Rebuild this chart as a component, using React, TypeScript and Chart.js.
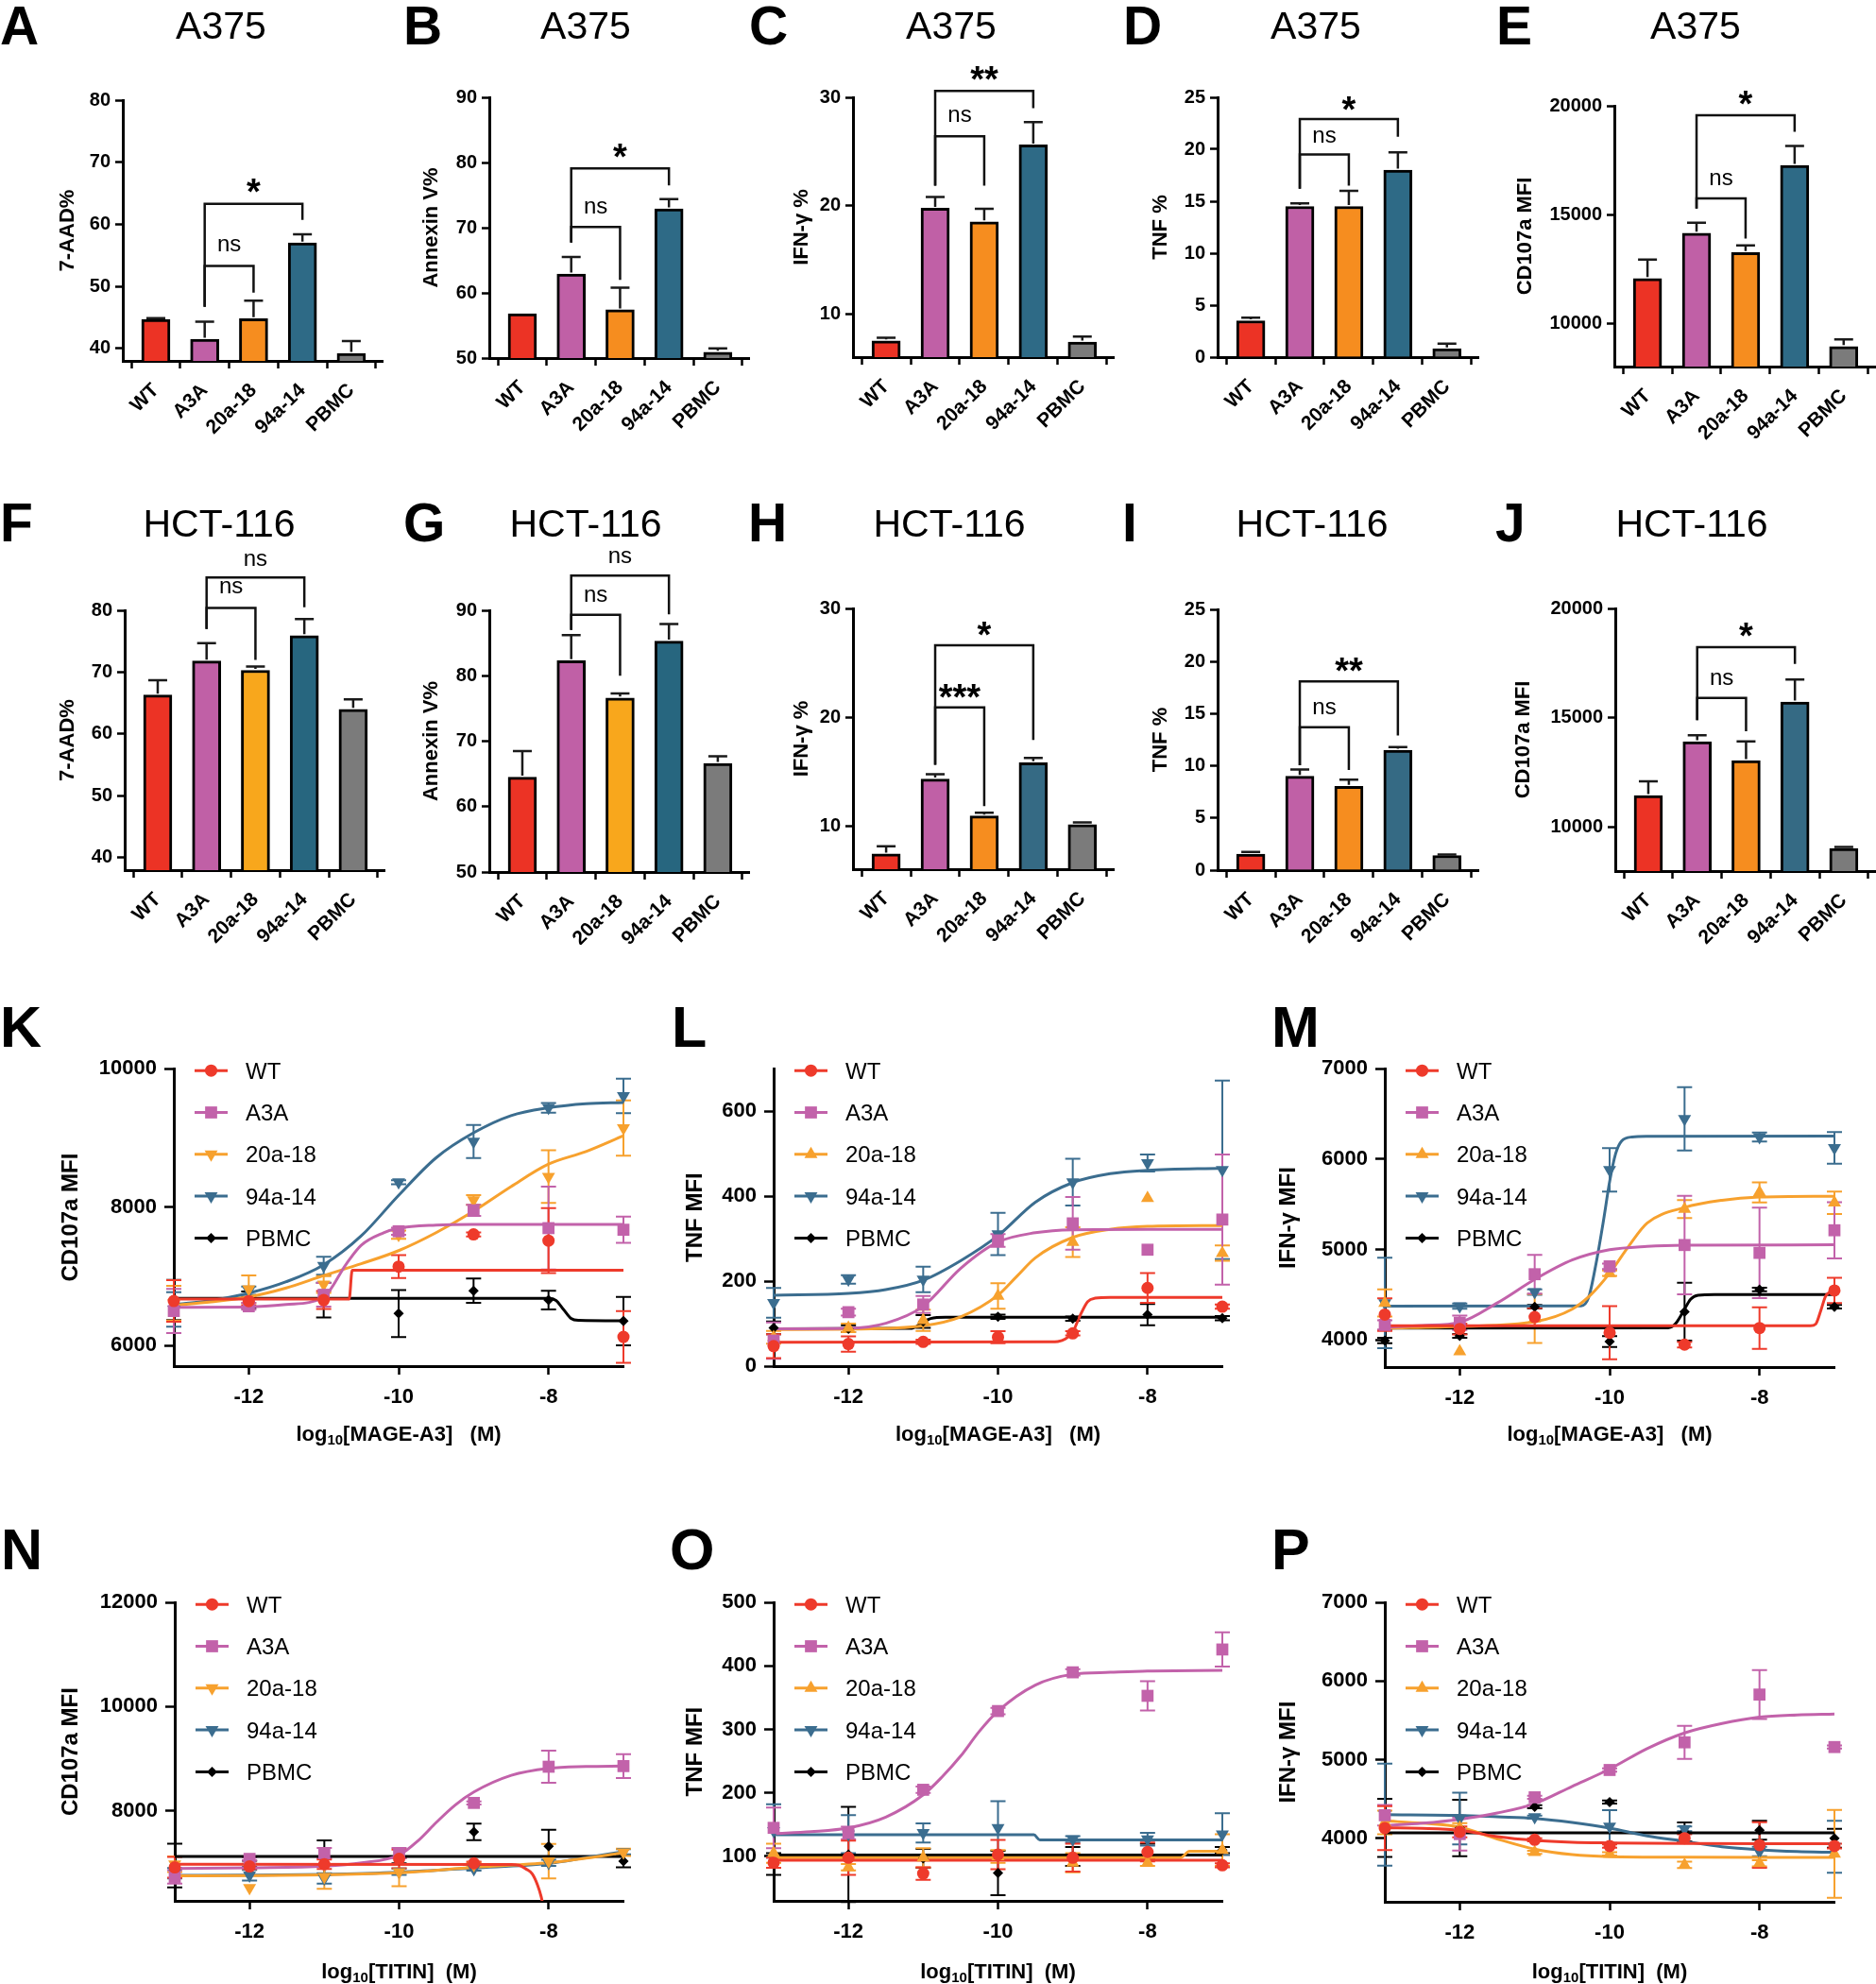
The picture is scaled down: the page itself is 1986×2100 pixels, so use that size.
import React, { useEffect, useRef } from 'react';
import { Chart, registerables } from 'chart.js';

Chart.register(...registerables);

const FONT = "'Liberation Sans', Arial, Helvetica, sans-serif";

// ---------------- categories ----------------
const groups = ['WT', 'A3A', '20a-18', '94a-14', 'PBMC'];

// ---------------- bar panels: means, errors ----------------
const A_mean = [44.7, 41.5, 44.8, 57.0, 39.2];
const A_err = [0.2, 2.8, 2.9, 1.4, 2.0];
const B_mean = [56.8, 62.9, 57.4, 72.9, 50.9];
const B_err = [0, 2.6, 3.4, 1.5, 0.6];
const C_mean = [7.5, 19.75, 18.5, 25.6, 7.4];
const C_err = [0.3, 1.05, 1.2, 2.1, 0.5];
const D_mean = [3.5, 14.5, 14.5, 18.0, 0.8];
const D_err = [0.3, 0.3, 1.5, 1.7, 0.5];
const E_mean = [12050, 14140, 13250, 17260, 8920];
const E_err = [870, 475, 330, 895, 330];
const F_mean = [66.3, 71.8, 70.3, 75.9, 64.0];
const F_err = [2.4, 2.9, 0.6, 2.7, 1.6];
const G_mean = [64.5, 82.3, 76.6, 85.3, 66.6];
const G_err = [4.0, 3.9, 0.7, 2.6, 1.1];
const H_mean = [7.4, 14.3, 10.9, 15.8, 10.1];
const H_err = [0.7, 0.45, 0.3, 0.45, 0.2];
const I_mean = [1.54, 9.0, 8.03, 11.5, 1.4];
const I_err = [0.2, 0.65, 0.65, 0.3, 0.1];
const J_mean = [11450, 13910, 13045, 15725, 9030];
const J_err = [650, 300, 880, 1030, 70];

// significance brackets: [from, to, barY, leftLegEnd, rightLegEnd, label, labelCenterY]
const A_sig = [[1, 2, 53.3, 46.7, 49.0, 'ns', 56.6], [1, 3, 63.3, 46.7, 60.7, '*', 66.2]];
const B_sig = [[1, 2, 70.1, 67.7, 62.0, 'ns', 73.1], [1, 3, 79.1, 67.7, 76.5, '*', 81.8]];
const C_sig = [[1, 2, 26.4, 21.85, 21.85, 'ns', 28.3], [1, 3, 30.6, 21.85, 29.0, '**', 32.2]];
const D_sig = [[1, 2, 19.5, 16.2, 16.5, 'ns', 21.2], [1, 3, 22.9, 16.2, 21.2, '*', 24.4]];
const E_sig = [[1, 2, 15743, 15267, 13896, 'ns', 16638], [1, 3, 19567, 15267, 18802, '*', 20390]];
const F_sig = [[1, 2, 80.4, 77.0, 72.0, 'ns', 83.7], [1, 3, 85.3, 77.0, 80.5, 'ns', 88.1]];
const G_sig = [[1, 2, 89.3, 87.0, 80.0, 'ns', 92.3], [1, 3, 95.3, 87.0, 89.4, 'ns', 98.2]];
const H_sig = [[1, 2, 20.9, 15.6, 11.8, '***', 22.4], [1, 3, 26.6, 15.6, 17.9, '*', 28.1]];
const I_sig = [[1, 2, 13.7, 10.05, 9.6, 'ns', 15.5], [1, 3, 18.1, 10.05, 12.9, '**', 19.7]];
const J_sig = [[1, 2, 15914, 14899, 14392, 'ns', 16783], [1, 3, 18232, 14899, 17464, '*', 19029]];

// y tick values
const aadTicks = [40, 50, 60, 70, 80];
const annexTicks = [50, 60, 70, 80, 90];
const ifnPctTicks = [10, 20, 30];
const tnfPctTicks = [0, 5, 10, 15, 20, 25];
const cd107BarTicks = [10000, 15000, 20000];

// ---------------- dose-response panels ----------------
const doses = [-13, -12, -11, -10, -9, -8, -7];
const doseTicks = [-12, -10, -8];

// series order: WT, A3A, 20a-18, 94a-14, PBMC
const K_mean = [
  [6642, 6640, 6655, 7139, 7604, 7514, 6122],
  [6497, 6565, 6732, 7650, 7952, 7695, 7672],
  [6610, 6813, 6880, 7600, 8102, 8440, 9141],
  [6520, 6790, 7152, 8359, 8947, 9435, 9607],
  [6655, 6660, 6655, 6461, 6791, 6655, 6352],
];
const K_err = [
  [300, 60, 130, 165, 30, 470, 375],
  [320, 50, 170, 50, 80, 600, 190],
  [250, 200, 120, 60, 70, 380, 400],
  [250, 60, 130, 30, 240, 70, 250],
  [290, 120, 250, 340, 175, 135, 350],
];
const K_fit = [
  [[-13, 6670], [-10.66, 6670], [-10.62, 7085], [-7, 7085]],
  [[-13, 6550], [-12, 6555], [-11.5, 6590], [-11, 6700], [-10.7, 7175], [-10.5, 7446], [-10.2, 7627], [-10, 7695], [-9.5, 7740], [-9, 7749], [-7, 7750]],
  [[-13, 6580], [-12.5, 6630], [-12, 6700], [-11.5, 6830], [-11, 7010], [-10.5, 7180], [-10, 7370], [-9.5, 7630], [-9, 7940], [-8.5, 8296], [-8, 8620], [-7.5, 8802], [-7, 9030]],
  [[-13, 6590], [-12.5, 6650], [-12, 6755], [-11.5, 6920], [-11, 7166], [-10.5, 7582], [-10, 8169], [-9.5, 8712], [-9, 9073], [-8.5, 9322], [-8, 9435], [-7.5, 9494], [-7, 9512]],
  [[-13, 6680], [-8, 6680], [-7.9, 6650], [-7.8, 6520], [-7.7, 6390], [-7.6, 6362], [-7, 6355]],
];

const L_mean = [
  [47, 52, 57, 68, 77, 184, 140],
  [60, 127, 145, 296, 336, 274, 345],
  [68, 90, 108, 165, 292, 395, 266],
  [149, 204, 204, 311, 433, 478, 462],
  [90, 88, 105, 116, 112, 121, 113],
];
const L_err = [
  [28, 18, 5, 14, 5, 35, 5],
  [43, 8, 20, 15, 62, 0, 153],
  [15, 10, 25, 30, 35, 0, 18],
  [35, 10, 30, 50, 55, 20, 210],
  [15, 8, 15, 5, 5, 25, 5],
];
const L_fit = [
  [[-13, 56], [-9.3, 57], [-9.2, 58], [-9.1, 64], [-9.0, 80], [-8.9, 120], [-8.8, 152], [-8.7, 160], [-8.5, 162], [-7, 162]],
  [[-13, 88], [-12, 89], [-11.5, 101], [-11, 141], [-10.5, 230], [-10, 292], [-9.5, 314], [-9, 321], [-8, 322], [-7, 322]],
  [[-13, 86], [-12, 87], [-11, 95], [-10.5, 116], [-10, 167], [-9.75, 211], [-9.5, 255], [-9, 303], [-8.5, 322], [-8, 329], [-7, 331]],
  [[-13, 167], [-12, 171], [-11.5, 180], [-11, 202], [-10.5, 248], [-10, 307], [-9.5, 386], [-9, 432], [-8.5, 453], [-8, 461], [-7, 466]],
  [[-13, 88], [-11.15, 89], [-11.0, 104], [-10.9, 112], [-10.7, 115], [-7, 115]],
];

const M_mean = [
  [4281, 4121, 4253, 4080, 3948, 4132, 4547],
  [4166, 4190, 4727, 4814, 5050, 4963, 5213],
  [4409, 3872, 4236, 4738, 5448, 5632, 5517],
  [4409, 4374, 4530, 5881, 6446, 6245, 6124],
  [3993, 4045, 4367, 3983, 4312, 4558, 4367],
];
const M_err = [
  [180, 60, 100, 295, 30, 230, 140],
  [50, 80, 215, 30, 545, 500, 310],
  [150, 0, 270, 30, 100, 110, 125],
  [500, 30, 30, 240, 350, 50, 175],
  [30, 20, 20, 60, 320, 20, 20],
];
const M_fit = [
  [[-13, 4156], [-7.32, 4156], [-7.25, 4175], [-7.18, 4330], [-7.12, 4480], [-7.05, 4535], [-7, 4545]],
  [[-13, 4140], [-12.5, 4160], [-12, 4195], [-11.5, 4409], [-11, 4669], [-10.5, 4884], [-10, 4998], [-9.5, 5035], [-9, 5048], [-7, 5052]],
  [[-13, 4130], [-12, 4150], [-11, 4201], [-10.5, 4340], [-10.25, 4500], [-10, 4738], [-9.75, 5032], [-9.5, 5292], [-9, 5465], [-8.5, 5545], [-8, 5580], [-7, 5590]],
  [[-13, 4374], [-10.38, 4376], [-10.28, 4470], [-10.18, 4850], [-10.08, 5330], [-10.0, 5750], [-9.92, 6060], [-9.84, 6200], [-9.7, 6245], [-9.5, 6252], [-7, 6255]],
  [[-13, 4132], [-9.22, 4134], [-9.12, 4180], [-9.02, 4310], [-8.92, 4450], [-8.82, 4495], [-8.6, 4502], [-7, 4502]],
];

const N_mean = [
  [6913, 6931, 6973, 7076, 6991, null, null],
  [6731, 7076, 7185, 7185, 8151, 8846, 8858],
  [6973, 6520, 6731, 6822, 6960, 7033, 7203],
  [6800, 6762, 6701, 6830, 6882, 7000, 7215],
  [6950, 6980, 7100, 7050, 7595, 7317, 7033],
];
const N_err = [
  [200, 50, 90, 180, 30, 0, 0],
  [130, 30, 100, 100, 30, 310, 230],
  [150, 0, 230, 270, 40, 330, 70],
  [100, 100, 100, 60, 30, 60, 50],
  [420, 60, 330, 60, 160, 320, 120],
];
const N_fit = [
  [[-13, 6973], [-8.5, 6968], [-8.4, 6955], [-8.3, 6880], [-8.22, 6790], [-8.15, 6580], [-8.1, 6350], [-8.05, 6000]],
  [[-13, 6890], [-12, 6905], [-11, 6935], [-10.5, 7000], [-10, 7150], [-9.75, 7420], [-9.5, 7780], [-9.25, 8110], [-9, 8360], [-8.5, 8680], [-8, 8815], [-7.5, 8850], [-7, 8860]],
  [[-13, 6750], [-12, 6755], [-11, 6770], [-10, 6810], [-9, 6913], [-8, 7003], [-7.5, 7090], [-7, 7197]],
  [[-13, 6760], [-12, 6765], [-11, 6780], [-10, 6820], [-9, 6900], [-8, 6990], [-7.5, 7100], [-7, 7215]],
  [[-13, 7124], [-7, 7124]],
];

const O_mean = [
  [90, 98, 73, 103, 98, 107, 86],
  [145, 137, 205, 329, 390, 353, 426],
  [105, 83, 98, 100, 90, 90, 110],
  [140, 135, 137, 145, 127, 127, 135],
  [88, 103, 97, 74, 100, 108, 110],
];
const O_err = [
  [8, 27, 10, 23, 22, 15, 3],
  [32, 10, 5, 5, 5, 23, 27],
  [15, 5, 15, 10, 15, 5, 25],
  [42, 30, 15, 42, 5, 10, 33],
  [17, 75, 15, 35, 15, 12, 5],
];
const O_fit = [
  [[-13, 94], [-7, 94]],
  [[-13, 136], [-12.5, 139], [-12, 145], [-11.5, 162], [-11, 197], [-10.75, 225], [-10.5, 258], [-10.25, 297], [-10, 329], [-9.5, 370], [-9, 387], [-8.5, 390], [-8, 392], [-7, 393]],
  [[-13, 98], [-7.56, 98], [-7.44, 108], [-7, 108]],
  [[-13, 134], [-9.52, 134], [-9.44, 126], [-7, 126]],
  [[-13, 102], [-7, 102]],
];

const P_mean = [
  [4128, 4080, 3980, 3900, 4000, 3912, 3900],
  [4292, 4052, 4520, 4868, 5220, 5828, 5160],
  [4200, 4130, 3820, 3800, 3660, 3680, 3800],
  [4300, 4250, 4268, 4148, 4120, 3830, 3890],
  [4130, 4130, 4400, 4460, 4080, 4100, 4000],
];
const P_err = [
  [280, 70, 20, 20, 50, 290, 30],
  [130, 210, 20, 20, 210, 310, 20],
  [150, 60, 20, 20, 40, 40, 560],
  [650, 330, 20, 210, 30, 60, 330],
  [370, 360, 20, 20, 120, 120, 120],
];
const P_fit = [
  [[-13, 4132], [-12.5, 4125], [-12, 4100], [-11.5, 4020], [-11, 3972], [-10.5, 3948], [-10, 3940], [-9, 3932], [-7, 3930]],
  [[-13, 4160], [-12.5, 4190], [-12, 4240], [-11.5, 4320], [-11, 4440], [-10.5, 4660], [-10, 4880], [-9.5, 5140], [-9, 5340], [-8.5, 5460], [-8, 5540], [-7.5, 5568], [-7, 5580]],
  [[-13, 4220], [-12.5, 4190], [-12, 4140], [-11.5, 3990], [-11, 3860], [-10.5, 3790], [-10, 3765], [-9, 3758], [-7, 3755]],
  [[-13, 4300], [-12, 4290], [-11.5, 4272], [-11, 4252], [-10.5, 4200], [-10, 4128], [-9.5, 4028], [-9, 3960], [-8.5, 3890], [-8, 3852], [-7.5, 3830], [-7, 3820]],
  [[-13, 4068], [-7, 4068]],
];

// ---------------- styles ----------------
const RED = '#EC3325', MAG = '#C060A6', ORA = '#F68D1F', TEAL = '#2E6A86', GRAY = '#7B7B7B';
const row1Colors = [RED, MAG, ORA, TEAL, GRAY];
const fgColors = [RED, MAG, '#F8A71C', '#27667F', GRAY];
const hijColors = [RED, MAG, ORA, '#356A84', GRAY];

const lineStyles = [
  { name: 'WT', color: '#EE3A2B', style: 'circle', r: 6.5 },
  { name: 'A3A', color: '#C262AA', style: 'rect', r: 9 },
  { name: '20a-18', color: '#F7A12E', style: 'triangle', r: 8 },
  { name: '94a-14', color: '#3B6D8F', style: 'triangle', r: 8 },
  { name: 'PBMC', color: '#000000', style: 'rectRot', r: 5.5 },
];

const barPanels = [
  { key: 'A', box: [40, 55, 380, 420], area: [130, 106, 405, 382], titleX: 72, yTitle: '7-AAD%', range: [38, 80], ticks: aadTicks, mean: A_mean, err: A_err, sig: A_sig, colors: row1Colors },
  { key: 'B', box: [425, 55, 380, 420], area: [518, 103, 793, 379], titleX: 457, yTitle: 'Annexin V%', range: [50, 90], ticks: annexTicks, mean: B_mean, err: B_err, sig: B_sig, colors: row1Colors },
  { key: 'C', box: [810, 55, 385, 420], area: [903, 103, 1179, 378], titleX: 849, yTitle: 'IFN-γ %', range: [6, 30], ticks: ifnPctTicks, mean: C_mean, err: C_err, sig: C_sig, colors: row1Colors },
  { key: 'D', box: [1200, 55, 385, 420], area: [1289, 103, 1565, 378], titleX: 1229, yTitle: 'TNF %', range: [0, 25], ticks: tnfPctTicks, mean: D_mean, err: D_err, sig: D_sig, colors: row1Colors },
  { key: 'E', box: [1590, 55, 396, 420], area: [1709, 112, 1985, 388], titleX: 1615, yTitle: 'CD107a MFI', range: [8000, 20000], ticks: cd107BarTicks, mean: E_mean, err: E_err, sig: E_sig, colors: row1Colors },
  { key: 'F', box: [40, 575, 380, 425], area: [132, 646, 407, 921], titleX: 72, yTitle: '7-AAD%', range: [38, 80], ticks: aadTicks, mean: F_mean, err: F_err, sig: F_sig, colors: fgColors },
  { key: 'G', box: [425, 575, 380, 425], area: [518, 646, 793, 923], titleX: 457, yTitle: 'Annexin V%', range: [50, 90], ticks: annexTicks, mean: G_mean, err: G_err, sig: G_sig, colors: fgColors },
  { key: 'H', box: [810, 575, 385, 425], area: [903, 644, 1179, 920], titleX: 849, yTitle: 'IFN-γ %', range: [6, 30], ticks: ifnPctTicks, mean: H_mean, err: H_err, sig: H_sig, colors: hijColors },
  { key: 'I', box: [1200, 575, 385, 425], area: [1289, 645, 1565, 921], titleX: 1229, yTitle: 'TNF %', range: [0, 25], ticks: tnfPctTicks, mean: I_mean, err: I_err, sig: I_sig, colors: hijColors },
  { key: 'J', box: [1590, 575, 396, 425], area: [1710, 644, 1985, 922], titleX: 1613, yTitle: 'CD107a MFI', range: [8000, 20000], ticks: cd107BarTicks, mean: J_mean, err: J_err, sig: J_sig, colors: hijColors },
];

const linePanels = [
  { key: 'K', box: [50, 1110, 620, 435], area: [184, 1128, 660, 1446], titleX: 75, yTitle: 'CD107a MFI', range: [5700, 10000], ticks: [6000, 8000, 10000], mean: K_mean, err: K_err, fit: K_fit, down20: true, xTitle: 'MAGE-A3', xTitleY: 1518 },
  { key: 'L', box: [690, 1110, 615, 435], area: [819, 1129, 1294, 1446], titleX: 736, yTitle: 'TNF MFI', range: [0, 700], ticks: [0, 200, 400, 600], mean: L_mean, err: L_err, fit: L_fit, down20: false, xTitle: 'MAGE-A3', xTitleY: 1518 },
  { key: 'M', box: [1330, 1110, 625, 435], area: [1466, 1129, 1942, 1447], titleX: 1364, yTitle: 'IFN-γ MFI', range: [3700, 7000], ticks: [4000, 5000, 6000, 7000], mean: M_mean, err: M_err, fit: M_fit, down20: false, xTitle: 'MAGE-A3', xTitleY: 1518 },
  { key: 'N', box: [50, 1675, 620, 425], area: [185, 1696, 660, 2012], titleX: 75, yTitle: 'CD107a MFI', range: [6270, 12000], ticks: [8000, 10000, 12000], mean: N_mean, err: N_err, fit: N_fit, down20: true, xTitle: 'TITIN', xTitleY: 2087 },
  { key: 'O', box: [690, 1675, 615, 425], area: [819, 1696, 1294, 2012], titleX: 736, yTitle: 'TNF MFI', range: [30, 500], ticks: [100, 200, 300, 400, 500], mean: O_mean, err: O_err, fit: O_fit, down20: false, xTitle: 'TITIN', xTitleY: 2087 },
  { key: 'P', box: [1330, 1675, 625, 425], area: [1466, 1695, 1942, 2013], titleX: 1364, yTitle: 'IFN-γ MFI', range: [3190, 7000], ticks: [4000, 5000, 6000, 7000], mean: P_mean, err: P_err, fit: P_fit, down20: false, xTitle: 'TITIN', xTitleY: 2087 },
];

// ---------------- drawing helpers ----------------
function drawMarker(ctx: any, style: string, r: number, rot: number, x: number, y: number) {
  ctx.beginPath();
  if (style === 'circle') {
    ctx.arc(x, y, r, 0, Math.PI * 2);
  } else if (style === 'rect') {
    const s = r * Math.SQRT1_2;
    ctx.rect(x - s, y - s, 2 * s, 2 * s);
  } else if (style === 'rectRot') {
    ctx.moveTo(x, y - r); ctx.lineTo(x + r, y); ctx.lineTo(x, y + r); ctx.lineTo(x - r, y); ctx.closePath();
  } else {
    const a0 = (rot * Math.PI) / 180;
    for (let k = 0; k < 3; k++) {
      const a = a0 + (k * 2 * Math.PI) / 3;
      const px = x + Math.sin(a) * r, py = y - Math.cos(a) * r;
      if (k === 0) ctx.moveTo(px, py); else ctx.lineTo(px, py);
    }
    ctx.closePath();
  }
  ctx.fill();
}

function sigLabelFont(label: string) {
  return label.includes('*') ? `bold 38px ${FONT}` : `24px ${FONT}`;
}

function barExtras(p: any) {
  return {
    id: 'barExtras' + p.key,
    afterDatasetsDraw(chart: any) {
      const { ctx } = chart; const xs = chart.scales.x, ys = chart.scales.y;
      ctx.save();
      ctx.strokeStyle = '#1a1a1a'; ctx.lineWidth = 2.5;
      p.mean.forEach((v: number, i: number) => {
        const e = p.err[i]; if (!e) return;
        const px = xs.getPixelForValue(i);
        const y0 = ys.getPixelForValue(v) - 1.5;
        const y1 = ys.getPixelForValue(v + e);
        ctx.beginPath();
        ctx.moveTo(px, y0); ctx.lineTo(px, y1);
        ctx.moveTo(px - 10, y1); ctx.lineTo(px + 10, y1);
        ctx.stroke();
      });
      ctx.restore();
    },
    afterDraw(chart: any) {
      const { ctx } = chart; const xs = chart.scales.x, ys = chart.scales.y;
      ctx.save();
      ctx.strokeStyle = '#111'; ctx.lineWidth = 2.5; ctx.lineJoin = 'miter';
      for (const s of p.sig) {
        const [a, b, yt, yl, yr, label, ly] = s;
        const x1 = xs.getPixelForValue(a), x2 = xs.getPixelForValue(b);
        ctx.beginPath();
        ctx.moveTo(x1, ys.getPixelForValue(yl));
        ctx.lineTo(x1, ys.getPixelForValue(yt));
        ctx.lineTo(x2, ys.getPixelForValue(yt));
        ctx.lineTo(x2, ys.getPixelForValue(yr));
        ctx.stroke();
        ctx.font = sigLabelFont(label);
        ctx.fillStyle = '#000'; ctx.textAlign = 'center'; ctx.textBaseline = 'alphabetic';
        const m = ctx.measureText(label);
        const cy = ys.getPixelForValue(ly);
        ctx.fillText(label, (x1 + x2) / 2, cy + (m.actualBoundingBoxAscent - m.actualBoundingBoxDescent) / 2);
      }
      ctx.restore();
    },
  };
}

function seriesFor(p: any) {
  return lineStyles.map((s, i) => ({
    ...s,
    rot: s.style === 'triangle' ? (i === 3 || (i === 2 && p.down20) ? 180 : 0) : 0,
    mean: p.mean[i], err: p.err[i], fit: p.fit[i],
  }));
}

function lineExtras(p: any, series: any[]) {
  return {
    id: 'lineExtras' + p.key,
    beforeDatasetsDraw(chart: any) {
      const { ctx } = chart; const xs = chart.scales.x, ys = chart.scales.y;
      ctx.save();
      ctx.lineWidth = 2;
      for (let si = series.length - 1; si >= 0; si--) {
        const s = series[si];
        ctx.strokeStyle = s.color;
        s.mean.forEach((m: number | null, i: number) => {
          const e = s.err[i];
          if (m == null || !e) return;
          const px = xs.getPixelForValue(doses[i]);
          const y1 = ys.getPixelForValue(m + e), y2 = ys.getPixelForValue(m - e);
          ctx.beginPath();
          ctx.moveTo(px, y1); ctx.lineTo(px, y2);
          ctx.moveTo(px - 8, y1); ctx.lineTo(px + 8, y1);
          ctx.moveTo(px - 8, y2); ctx.lineTo(px + 8, y2);
          ctx.stroke();
        });
      }
      ctx.restore();
    },
    afterDraw(chart: any) {
      const { ctx } = chart; const { left, top } = chart.chartArea;
      ctx.save();
      series.forEach((s, i) => {
        const cy = top + 2 + i * 44.3;
        ctx.strokeStyle = s.color; ctx.lineWidth = 3;
        ctx.beginPath(); ctx.moveTo(left + 22, cy); ctx.lineTo(left + 57, cy); ctx.stroke();
        ctx.fillStyle = s.color;
        drawMarker(ctx, s.style, s.r, s.rot, left + 39.5, cy);
        ctx.fillStyle = '#000';
        ctx.font = `24px ${FONT}`;
        ctx.textAlign = 'left'; ctx.textBaseline = 'alphabetic';
        ctx.fillText(s.name, left + 76, cy + 24 * 0.358);
      });
      ctx.restore();
    },
  };
}

const tickGrid = (len: number) => ({ display: true, drawOnChartArea: false, drawTicks: true, tickLength: len, tickWidth: 2.5, tickColor: '#000', color: '#000' });
const axisBorder = { display: true, width: 3, color: '#000' };
const bold = (size: number) => ({ family: FONT, size, weight: 'bold' as any });

function barConfig(p: any) {
  const [bx, by, bw, bh] = p.box; const [l, t, r, b] = p.area;
  return {
    type: 'bar',
    data: {
      datasets: [{
        data: p.mean.map((v: number, i: number) => ({ x: i, y: v })),
        backgroundColor: p.colors, borderColor: '#000', borderWidth: 3, borderSkipped: 'start', barThickness: 30,
      }],
    },
    options: {
      responsive: false, animation: false, events: [],
      layout: { padding: { left: 0, top: t - by, right: bx + bw - r, bottom: 0 } },
      plugins: { legend: { display: false }, tooltip: { enabled: false } },
      scales: {
        x: {
          type: 'linear', min: -0.676, max: 4.64, offset: false,
          afterBuildTicks: (s: any) => { s.ticks = groups.map((_, i) => ({ value: i })); },
          afterFit: (s: any) => { s.height = by + bh - b; },
          ticks: { autoSkip: false, minRotation: 45, maxRotation: 45, padding: 11, color: '#000', font: bold(21), callback: (v: any) => groups[v] ?? '' },
          grid: tickGrid(8), border: axisBorder,
        },
        y: {
          type: 'linear', min: p.range[0], max: p.range[1],
          afterBuildTicks: (s: any) => { s.ticks = p.ticks.map((v: number) => ({ value: v })); },
          afterFit: (s: any) => { s.width = l - bx; },
          ticks: { padding: 5, color: '#000', font: bold(20), callback: (v: any) => String(v) },
          grid: tickGrid(8), border: axisBorder,
          title: { display: true, text: p.yTitle, color: '#000', font: { family: FONT, size: 22, weight: 'bold', lineHeight: 1 }, padding: { top: p.titleX - bx - 11, bottom: 0 } },
        },
      },
    },
    plugins: [barExtras(p)],
  };
}

function lineConfig(p: any) {
  const [bx, by, bw, bh] = p.box; const [l, t, r, b] = p.area;
  const series = seriesFor(p);
  const pointSets = series.map((s) => ({
    data: doses.map((d, i) => ({ x: d, y: s.mean[i] })),
    showLine: false, pointStyle: s.style, pointRotation: s.rot, pointRadius: s.r,
    pointBackgroundColor: s.color, pointBorderColor: s.color, pointBorderWidth: 0, clip: false,
  }));
  const fitSets = series.map((s) => ({
    data: s.fit.map(([x, y]: number[]) => ({ x, y })),
    showLine: true, borderColor: s.color, borderWidth: 3, pointRadius: 0,
    cubicInterpolationMode: 'monotone', fill: false,
  }));
  return {
    type: 'scatter',
    data: { datasets: [...pointSets, ...fitSets] },
    options: {
      responsive: false, animation: false, events: [],
      layout: { padding: { left: 0, top: t - by, right: bx + bw - r, bottom: 0 } },
      plugins: { legend: { display: false }, tooltip: { enabled: false } },
      scales: {
        x: {
          type: 'linear', min: -13, max: -7,
          afterBuildTicks: (s: any) => { s.ticks = doseTicks.map((v) => ({ value: v })); },
          afterFit: (s: any) => { s.height = by + bh - b; },
          ticks: { padding: 11, color: '#000', font: bold(22), callback: (v: any) => String(v) },
          grid: tickGrid(9), border: axisBorder,
        },
        y: {
          type: 'linear', min: p.range[0], max: p.range[1],
          afterBuildTicks: (s: any) => { s.ticks = p.ticks.map((v: number) => ({ value: v })); },
          afterFit: (s: any) => { s.width = l - bx; },
          ticks: { padding: 8, color: '#000', font: bold(22), callback: (v: any) => String(v) },
          grid: tickGrid(10), border: axisBorder,
          title: { display: true, text: p.yTitle, color: '#000', font: { family: FONT, size: 24, weight: 'bold', lineHeight: 1 }, padding: { top: p.titleX - bx - 12, bottom: 0 } },
        },
      },
    },
    plugins: [lineExtras(p, series)],
  };
}

function ChartBox({ box, make }: { box: number[]; make: () => any }) {
  const ref = useRef<HTMLCanvasElement>(null);
  useEffect(() => {
    const chart = new Chart(ref.current as HTMLCanvasElement, make());
    return () => chart.destroy();
  }, []);
  return (
    <canvas ref={ref} width={box[2]} height={box[3]}
      style={{ position: 'absolute', left: box[0], top: box[1], width: box[2], height: box[3] }} />
  );
}

function Txt({ x, y, size, weight, center, children }: any) {
  return (
    <div style={{
      position: 'absolute', left: x, top: y - 0.4885 * size, fontFamily: FONT, fontSize: size,
      fontWeight: weight, lineHeight: 1, whiteSpace: 'pre', color: '#000',
      transform: center ? 'translateX(-50%)' : undefined,
    }}>{children}</div>
  );
}

const panelLetters: [string, number, number, number][] = [
  ['A', 0, 27, 57], ['B', 427, 27, 57], ['C', 793, 27, 57], ['D', 1189, 27, 57], ['E', 1584, 27, 57],
  ['F', 0, 553, 57], ['G', 427, 553, 57], ['H', 792, 553, 57], ['I', 1188, 553, 57], ['J', 1583, 553, 57],
  ['K', 0, 1087, 61], ['L', 711, 1087, 61], ['M', 1346, 1087, 61],
  ['N', 1, 1640, 61], ['O', 709, 1640, 61], ['P', 1346, 1640, 61],
];
const panelTitles: [string, number, number][] = [
  ['A375', 234, 27], ['A375', 620, 27], ['A375', 1007, 27], ['A375', 1393, 27], ['A375', 1795, 27],
  ['HCT-116', 232, 554], ['HCT-116', 620, 554], ['HCT-116', 1005, 554], ['HCT-116', 1389, 554], ['HCT-116', 1791, 554],
];

export default function App() {
  return (
    <div style={{ position: 'absolute', left: 0, top: 0, width: 1986, height: 2100, background: '#fff', overflow: 'hidden' }}>
      {barPanels.map((p) => <ChartBox key={p.key} box={p.box} make={() => barConfig(p)} />)}
      {linePanels.map((p) => <ChartBox key={p.key} box={p.box} make={() => lineConfig(p)} />)}
      {panelLetters.map(([t, x, y, s]) => <Txt key={t} x={x} y={y} size={s} weight="bold">{t}</Txt>)}
      {panelTitles.map(([t, x, y], i) => <Txt key={'t' + i} x={x} y={y} size={41} weight="normal" center>{t}</Txt>)}
      {linePanels.map((p) => (
        <Txt key={'x' + p.key} x={(p.area[0] + p.area[2]) / 2} y={p.xTitleY} size={22} weight="bold" center>
          log<span style={{ fontSize: '0.68em', verticalAlign: '-0.3em' }}>10</span>[{p.xTitle}]{p.xTitle === 'TITIN' ? '  ' : '   '}(M)
        </Txt>
      ))}
    </div>
  );
}
